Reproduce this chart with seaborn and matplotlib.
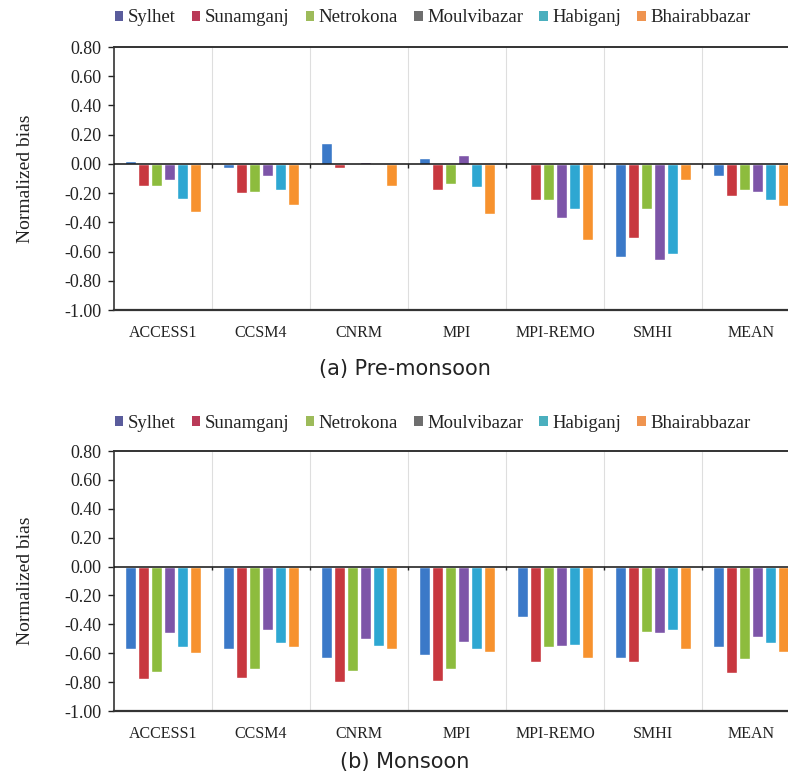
import numpy as np
import pandas as pd
import matplotlib
matplotlib.use("Agg")
import matplotlib.pyplot as plt
import seaborn as sns
from matplotlib.patches import Patch
from matplotlib.ticker import FormatStrFormatter

# Climate models (x categories) and stations (series)
models = ["ACCESS1", "CCSM4", "CNRM", "MPI", "MPI-REMO", "SMHI", "MEAN"]
stations = ["Sylhet", "Sunamganj", "Netrokona", "Moulvibazar", "Habiganj", "Bhairabbazar"]

# Normalized bias, pre-monsoon season (one list per station, ordered as models)
pre_sylhet = [0.02, -0.03, 0.14, 0.04, 0.00, -0.64, -0.08]
pre_sunamganj = [-0.15, -0.20, -0.03, -0.18, -0.25, -0.51, -0.22]
pre_netrokona = [-0.15, -0.19, -0.01, -0.14, -0.25, -0.31, -0.18]
pre_moulvibazar = [-0.11, -0.08, 0.01, 0.06, -0.37, -0.66, -0.19]
pre_habiganj = [-0.24, -0.18, -0.005, -0.16, -0.31, -0.62, -0.25]
pre_bhairabbazar = [-0.33, -0.28, -0.15, -0.34, -0.52, -0.11, -0.29]

# Normalized bias, monsoon season
mon_sylhet = [-0.57, -0.57, -0.63, -0.61, -0.35, -0.63, -0.56]
mon_sunamganj = [-0.78, -0.77, -0.80, -0.79, -0.66, -0.66, -0.74]
mon_netrokona = [-0.73, -0.71, -0.72, -0.71, -0.56, -0.45, -0.64]
mon_moulvibazar = [-0.46, -0.44, -0.50, -0.52, -0.55, -0.46, -0.49]
mon_habiganj = [-0.56, -0.53, -0.55, -0.57, -0.54, -0.44, -0.53]
mon_bhairabbazar = [-0.60, -0.56, -0.57, -0.59, -0.63, -0.57, -0.59]

y_ticks = [-1.0, -0.8, -0.6, -0.4, -0.2, 0.0, 0.2, 0.4, 0.6, 0.8]

bar_colors = ["#3b79c8", "#c8383f", "#8dbc3e", "#7d55a8", "#2ea7d2", "#f7922e"]
legend_colors = ["#5a5c9c", "#b93a58", "#9dbb5a", "#6e6e6e", "#4aafbe", "#ef9450"]


def long_frame(series):
    rows = []
    for st, vals in zip(stations, series):
        for m, v in zip(models, vals):
            rows.append({"model": m, "station": st, "bias": v})
    return pd.DataFrame(rows)


sns.set_theme(style="white")
plt.rcParams["font.family"] = ["Liberation Serif", "DejaVu Serif"]
plt.rcParams["axes.unicode_minus"] = False

W, H = 788, 782
fig = plt.figure(figsize=(W / 100, H / 100), dpi=100)
fig.patch.set_facecolor("white")


def draw_panel(series, top_px, bottom_px, legend_px, caption_px, caption):
    ax = fig.add_axes([114 / W, 1 - bottom_px / H, 686 / W, (bottom_px - top_px) / H])
    df = long_frame(series)
    sns.barplot(data=df, x="model", y="bias", hue="station", order=models,
                hue_order=stations, palette=bar_colors, width=0.8, gap=0.2,
                errorbar=None, saturation=1, legend=False, ax=ax, zorder=3)
    ax.set_xlim(-0.5, len(models) - 0.5)
    ax.set_ylim(-1.0, 0.8)
    ax.set_yticks(y_ticks)
    ax.yaxis.set_major_formatter(FormatStrFormatter("%.2f"))
    ax.set_xlabel("")
    ax.set_ylabel("Normalized bias", fontsize=14, color="#222222")
    ax.yaxis.set_label_coords(-0.117, 0.5)

    # category separators
    bounds = np.arange(0.5, len(models) - 0.5, 1)
    ax.set_xticks(bounds, minor=True)
    ax.grid(axis="x", which="minor", color="#dedede", lw=0.8, zorder=0)
    ax.grid(axis="y", which="major", visible=False)
    ax.set_axisbelow(True)
    ax.vlines(bounds, -0.025, 0.0, color="#222222", lw=1.0, zorder=4)
    ax.axhline(0, color="#111111", lw=1.1, zorder=4)

    ax.tick_params(axis="x", which="both", length=0, pad=11, labelsize=11.5,
                   labelcolor="#222222")
    ax.tick_params(axis="y", which="major", length=4, width=1, direction="out",
                   pad=5, labelsize=13, labelcolor="#222222", left=True,
                   color="#222222")

    for side in ["left", "bottom", "top"]:
        ax.spines[side].set_visible(True)
        ax.spines[side].set_color("#333333")
    ax.spines["left"].set_linewidth(1.2)
    ax.spines["bottom"].set_linewidth(1.6)
    ax.spines["top"].set_linewidth(1.4)
    ax.spines["right"].set_visible(False)

    handles = [Patch(facecolor=c, edgecolor="none") for c in legend_colors]
    fig.legend(handles, stations, loc="center left",
               bbox_to_anchor=(115 / W, 1 - legend_px / H), ncol=6, frameon=False,
               fontsize=13.5, handlelength=0.45, handleheight=0.45,
               handletextpad=0.25, columnspacing=0.85, borderpad=0, borderaxespad=0,
               labelcolor="#222222")

    fig.text(405 / W, 1 - caption_px / H, caption, ha="center", va="center",
             fontsize=15, family=["DejaVu Sans"], color="#222222")
    return ax


draw_panel([pre_sylhet, pre_sunamganj, pre_netrokona, pre_moulvibazar,
            pre_habiganj, pre_bhairabbazar], 47, 310, 18, 369, "(a) Pre-monsoon")
draw_panel([mon_sylhet, mon_sunamganj, mon_netrokona, mon_moulvibazar,
            mon_habiganj, mon_bhairabbazar], 451, 711, 423, 762, "(b) Monsoon")

fig.savefig("out.png", dpi=100, facecolor="white")
